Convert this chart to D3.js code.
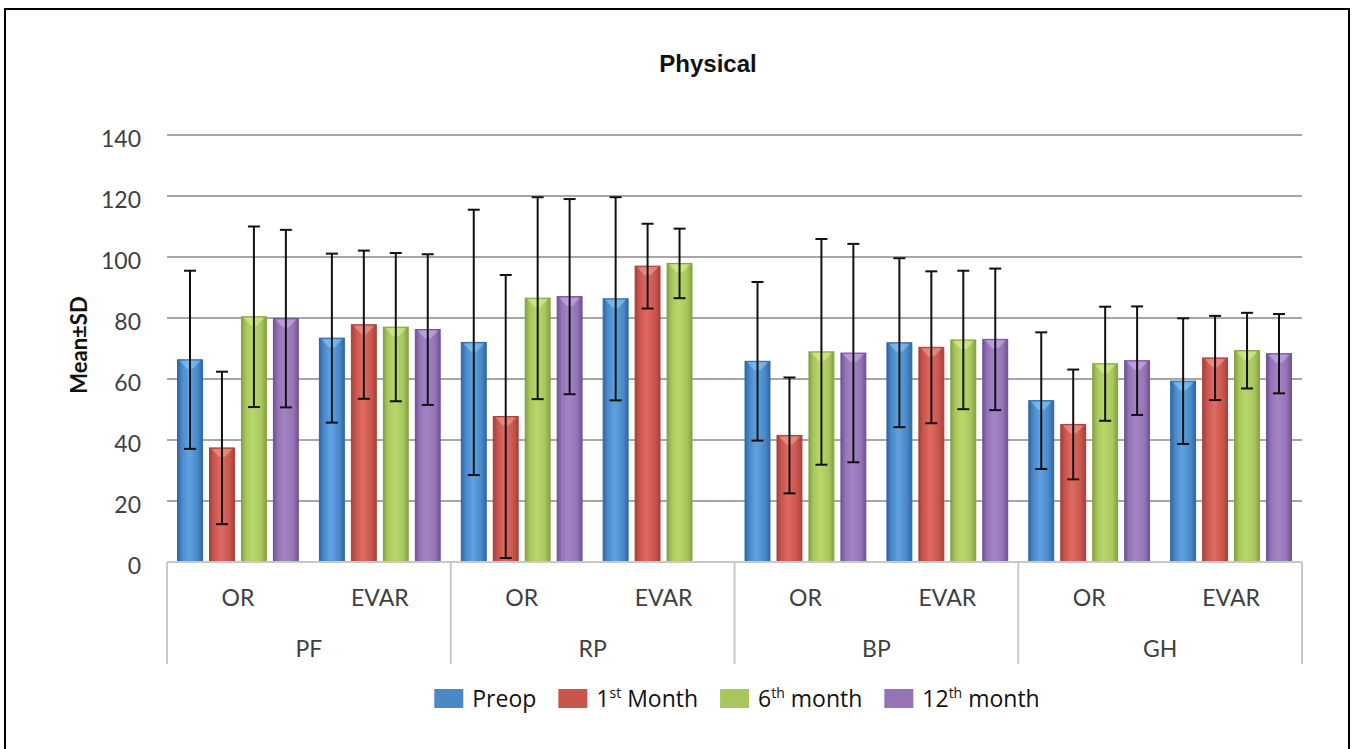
<!DOCTYPE html>
<html>
<head>
<meta charset="utf-8">
<script src="https://cdn.jsdelivr.net/npm/d3@7"></script>
<style>
  html, body { margin: 0; padding: 0; background: #fff; }
  svg { display: block; }
</style>
</head>
<body>
<svg id="chart" width="1354" height="749"></svg>
<script>
// ---------- DATA ----------
const groups = ["PF", "RP", "BP", "GH"];
const subgroups = ["OR", "EVAR"];
const seriesNames = ["Preop", "1st Month", "6th month", "12th month"];
const yTicks = [0, 20, 40, 60, 80, 100, 120, 140];
// order: PF-OR, PF-EVAR, RP-OR, RP-EVAR, BP-OR, BP-EVAR, GH-OR, GH-EVAR
const preopMean  = [66.3, 73.4, 72.0, 86.3, 65.8, 71.9, 52.9, 59.3];
const preopSD    = [29.2, 27.7, 43.5, 33.3, 26.0, 27.7, 22.4, 20.6];
const month1Mean = [37.4, 77.8, 47.7, 97.0, 41.5, 70.4, 45.1, 66.9];
const month1SD   = [25.0, 24.3, 46.4, 13.9, 19.0, 24.9, 18.0, 13.8];
const month6Mean = [80.4, 77.0, 86.5, 97.9, 68.9, 72.8, 65.0, 69.3];
const month6SD   = [29.6, 24.3, 33.1, 11.4, 37.0, 22.7, 18.7, 12.4];
const month12Mean= [79.8, 76.2, 87.0, null, 68.5, 73.0, 66.0, 68.3];
const month12SD  = [29.1, 24.7, 32.0, null, 35.8, 23.2, 17.8, 13.0];

const meansBySeries = [preopMean, month1Mean, month6Mean, month12Mean];
const sdBySeries = [preopSD, month1SD, month6SD, month12SD];

// ---------- STYLE ----------
const colors = {
  "Preop":      {base: "#4a89c8", edge: "#2f67a6", mid: "#5fa2e2", hi: "#8fd0f5"},
  "1st Month":  {base: "#c8564f", edge: "#a8403a", mid: "#df6a62", hi: "#f3a59c"},
  "6th month":  {base: "#a8c65e", edge: "#83a33f", mid: "#b8d86a", hi: "#e2f39a"},
  "12th month": {base: "#9474b4", edge: "#6f5296", mid: "#a284c6", hi: "#d0b8ee"}
};

const svg = d3.select("#chart");
const plotLeft = 167, plotRight = 1302, yTop = 135, yBottom = 562;

// frame
svg.append("rect").attr("x", 5).attr("y", 9).attr("width", 1344).attr("height", 780)
  .attr("fill", "#fff").attr("stroke", "#000").attr("stroke-width", 2);

// gradients
const defs = svg.append("defs");
seriesNames.forEach((s, i) => {
  const c = colors[s];
  const g = defs.append("linearGradient").attr("id", "grad" + i)
    .attr("x1", "0%").attr("x2", "100%").attr("y1", "0%").attr("y2", "0%");
  g.append("stop").attr("offset", "0%").attr("stop-color", c.edge);
  g.append("stop").attr("offset", "18%").attr("stop-color", c.base);
  g.append("stop").attr("offset", "45%").attr("stop-color", c.mid);
  g.append("stop").attr("offset", "80%").attr("stop-color", c.base);
  g.append("stop").attr("offset", "100%").attr("stop-color", c.edge);
});

// scales
const y = d3.scaleLinear().domain([0, 140]).range([yBottom, yTop]);
const xGroup = d3.scaleBand().domain(groups).range([plotLeft, plotRight]).padding(0);
const xSub = d3.scaleBand().domain(subgroups).range([0, xGroup.bandwidth()]).padding(0);
const xSeries = d3.scaleBand().domain(seriesNames).range([0, xSub.bandwidth()])
  .paddingInner(0.22).paddingOuter(0.33);

// gridlines
const gridTicks = yTicks.filter(t => t > 0);
svg.append("g").selectAll("line").data(gridTicks).join("line")
  .attr("x1", plotLeft).attr("x2", plotRight)
  .attr("y1", d => y(d)).attr("y2", d => y(d))
  .attr("stroke", "#a6a6a6").attr("stroke-width", 2);

// y axis labels via d3 axis
const yAxis = d3.axisLeft(y).tickValues(yTicks).tickSize(0).tickPadding(0);
const yg = svg.append("g").attr("transform", "translate(141,4)").call(yAxis);
yg.select(".domain").remove();
yg.selectAll("text").attr("font-family", "Lato, 'Open Sans', sans-serif")
  .attr("font-size", 23).attr("fill", "#404040");

// y title
svg.append("text").attr("transform", "translate(87,345) rotate(-90)")
  .attr("text-anchor", "middle").attr("font-family", "Lato, 'Open Sans', sans-serif")
  .attr("font-weight", "bold").attr("font-size", 22).attr("fill", "#111")
  .text("Mean±SD");

// title
svg.append("text").attr("x", 708).attr("y", 72).attr("text-anchor", "middle")
  .attr("font-family", "'Liberation Sans', Arial, sans-serif").attr("font-weight", "bold")
  .attr("font-size", 24).attr("fill", "#111").text("Physical");

// bars data
const cells = [];
groups.forEach((g, gi) => {
  subgroups.forEach((sg, si) => {
    const idx = gi * 2 + si;
    seriesNames.forEach((s, k) => {
      const m = meansBySeries[k][idx];
      const sd = sdBySeries[k][idx];
      if (m != null) cells.push({g, sg, s, k, m, sd});
    });
  });
});
const bx = d => xGroup(d.g) + xSub(d.sg) + xSeries(d.s);
const bw = xSeries.bandwidth();

const barG = svg.append("g");
barG.selectAll("rect.bar").data(cells).join("rect").attr("class", "bar")
  .attr("x", bx).attr("y", d => y(d.m))
  .attr("width", bw).attr("height", d => y(0) - y(d.m))
  .attr("fill", d => `url(#grad${d.k})`)
  .attr("stroke", d => colors[d.s].edge).attr("stroke-width", 1);

// top highlight (bevel)
barG.selectAll("path.hi").data(cells).join("path").attr("class", "hi")
  .attr("d", d => {
    const x0 = bx(d), t = y(d.m);
    return `M${x0 + 2},${t + 1} L${x0 + bw - 2},${t + 1} L${x0 + bw * 0.62},${t + 9} L${x0 + bw * 0.38},${t + 9} Z`;
  })
  .attr("fill", d => colors[d.s].hi).attr("opacity", 0.55);

// error bars
const errG = svg.append("g").attr("stroke", "#111").attr("stroke-width", 2);
const capHalf = 6;
errG.selectAll("line.v").data(cells).join("line").attr("class", "v")
  .attr("x1", d => bx(d) + bw / 2).attr("x2", d => bx(d) + bw / 2)
  .attr("y1", d => y(d.m + d.sd)).attr("y2", d => y(Math.max(0, d.m - d.sd)));
errG.selectAll("line.t").data(cells).join("line").attr("class", "t")
  .attr("x1", d => bx(d) + bw / 2 - capHalf).attr("x2", d => bx(d) + bw / 2 + capHalf)
  .attr("y1", d => y(d.m + d.sd)).attr("y2", d => y(d.m + d.sd));
errG.selectAll("line.b").data(cells).join("line").attr("class", "b")
  .attr("x1", d => bx(d) + bw / 2 - capHalf).attr("x2", d => bx(d) + bw / 2 + capHalf)
  .attr("y1", d => y(Math.max(0, d.m - d.sd))).attr("y2", d => y(Math.max(0, d.m - d.sd)));

// category axis box
const axG = svg.append("g").attr("stroke", "#c8c8c8").attr("stroke-width", 2);
axG.append("line").attr("x1", plotLeft).attr("x2", plotRight).attr("y1", y(0)).attr("y2", y(0));
const bounds = groups.map(g => xGroup(g)).concat([xGroup(groups[groups.length - 1]) + xGroup.bandwidth()]);
axG.selectAll("line.div").data(bounds).join("line").attr("class", "div")
  .attr("x1", d => d).attr("x2", d => d).attr("y1", y(0)).attr("y2", 664);

// sub labels
const subCells = [];
groups.forEach(g => subgroups.forEach(sg => subCells.push({g, sg})));
svg.append("g").selectAll("text").data(subCells).join("text")
  .attr("x", d => xGroup(d.g) + xSub(d.sg) + xSub.bandwidth() / 2)
  .attr("y", 606).attr("text-anchor", "middle")
  .attr("font-family", "Lato, 'Open Sans', sans-serif").attr("font-size", 23).attr("fill", "#404040")
  .text(d => d.sg);
svg.append("g").selectAll("text").data(groups).join("text")
  .attr("x", d => xGroup(d) + xGroup.bandwidth() / 2)
  .attr("y", 657).attr("text-anchor", "middle")
  .attr("font-family", "Lato, 'Open Sans', sans-serif").attr("font-size", 23).attr("fill", "#404040")
  .text(d => d);

// legend
const legendParts = [
  [["Preop", false]],
  [["1", false], ["st", true], [" Month", false]],
  [["6", false], ["th", true], [" month", false]],
  [["12", false], ["th", true], [" month", false]]
];
const legG = svg.append("g");
const items = [];
seriesNames.forEach((s, i) => {
  const ig = legG.append("g");
  ig.append("rect").attr("x", 0).attr("y", -10).attr("width", 29).attr("height", 19)
    .attr("fill", colors[s].base);
  const t = ig.append("text").attr("x", 38).attr("y", 8)
    .attr("font-family", "'Open Sans', sans-serif").attr("font-size", 23).attr("fill", "#111");
  legendParts[i].forEach(([txt, sup]) => {
    const ts = t.append("tspan").text(txt);
    if (sup) ts.attr("font-size", 14).attr("dy", -9);
    else if (t.selectAll("tspan").size() > 1) ts.attr("dy", 9);
  });
  items.push({ig, w: 38 + t.node().getComputedTextLength()});
});
const gap = 22;
const totalW = d3.sum(items, d => d.w) + gap * (items.length - 1);
let cx = 737 - totalW / 2;
items.forEach(it => { it.ig.attr("transform", `translate(${cx},699)`); cx += it.w + gap; });
</script>
</body>
</html>
